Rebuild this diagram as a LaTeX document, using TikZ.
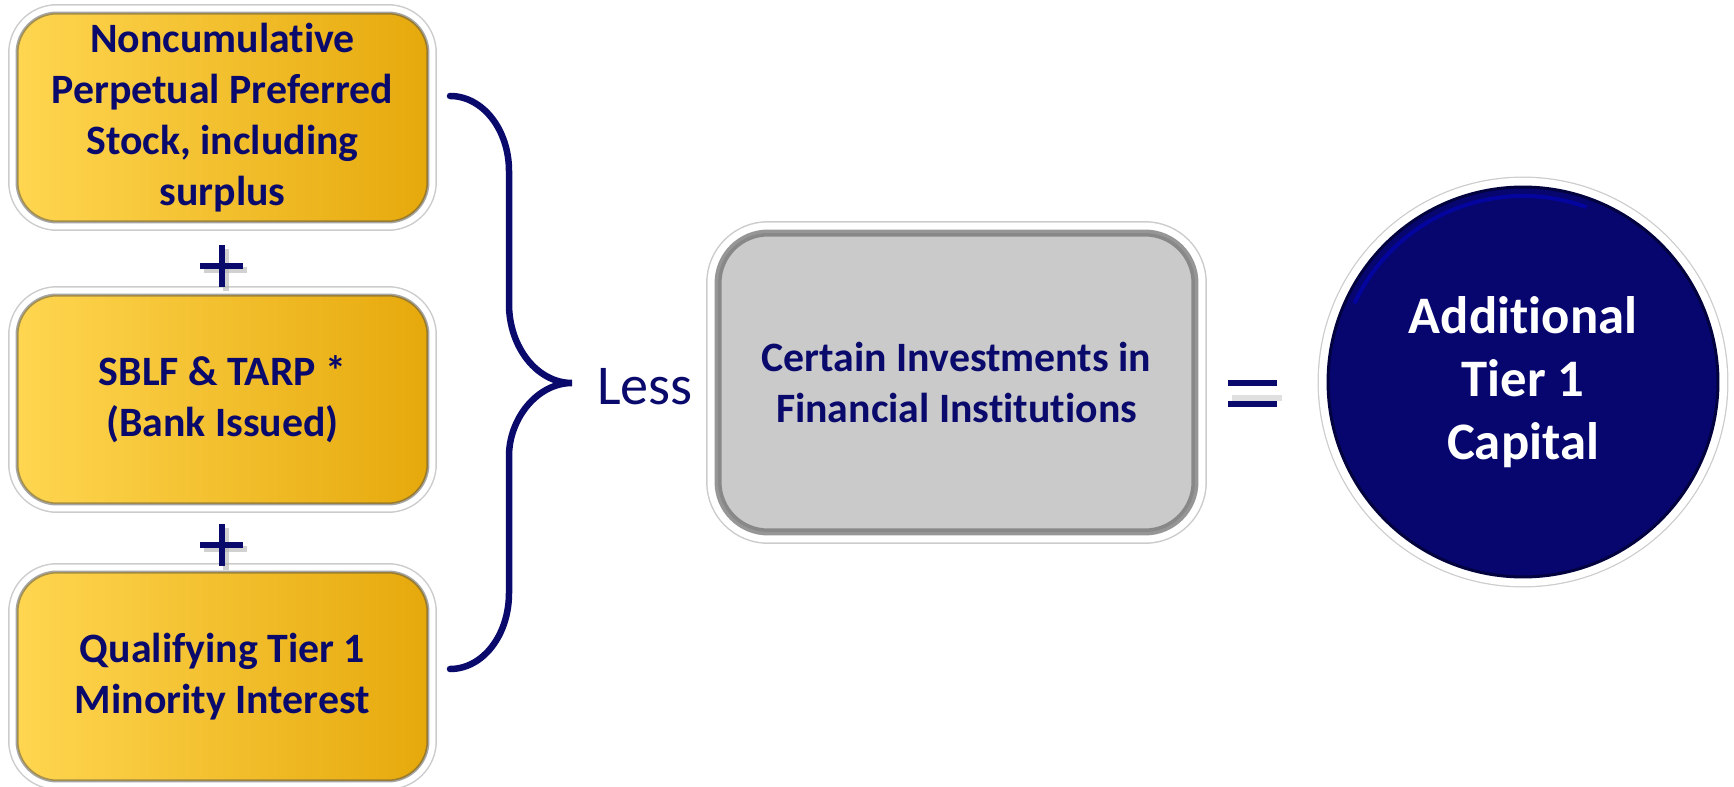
\documentclass[tikz,border=0pt]{standalone}
\usepackage{fontspec}
\setmainfont{Carlito}[Ligatures=NoCommon]
\definecolor{navytext}{HTML}{0A0A6C}
\definecolor{navyfill}{HTML}{06066E}
\definecolor{navyedge}{HTML}{02023F}
\definecolor{goldlight}{HTML}{FFD650}
\definecolor{goldmid}{HTML}{FFC410}
\definecolor{golddark}{HTML}{E6A90C}
\definecolor{boxgray}{HTML}{CACACA}
\tikzset{
	goldbox/.style={rectangle, rounded corners=0.8cm, minimum width=8.22cm, minimum height=4.18cm,
		inner sep=0pt, align=center, text=navytext, font=\fontsize{23.8}{29}\selectfont\bfseries,
		left color=goldlight, middle color=goldmid, right color=golddark,
		preaction={draw=black!20, line width=0.36cm}, preaction={draw=white, line width=0.30cm},
		postaction={draw=black!70, draw opacity=0.5, line width=0.06cm}},
	graybox/.style={rectangle, rounded corners=1cm, minimum width=9.54cm, minimum height=5.98cm,
		inner sep=0pt, align=center, text=navytext, font=\fontsize{23.8}{29}\selectfont\bfseries,
		fill=boxgray,
		preaction={draw=black!20, line width=0.48cm}, preaction={draw=white, line width=0.42cm},
		postaction={draw=black!55, draw opacity=0.75, line width=0.14cm}},
	capcircle/.style={circle, minimum size=7.8cm, inner sep=0pt, align=center, text=white,
		font=\fontsize{30}{36}\selectfont\bfseries, fill=navyfill,
		preaction={draw=black!20, line width=0.42cm}, preaction={draw=white, line width=0.37cm},
		postaction={draw=navyedge, line width=0.06cm}},
	lesstext/.style={text=navytext, font=\fontsize{32}{38}\selectfont, inner sep=0pt},
	braceline/.style={draw=navytext, line width=0.13cm, line cap=round},
	signbar/.style={draw=navytext, line width=0.12cm},
	signshadow/.style={draw=black!30, draw opacity=0.6, line width=0.12cm}
}
\begin{document}
\begin{tikzpicture}[x=0.02cm, y=-0.02cm]
	\useasboundingbox (0,0) rectangle (1734,787);
	
	% Draw the three gold boxes
	\node[goldbox] (perpetual) at (222.5,117.5) {Noncumulative\\Perpetual Preferred\\Stock, including\\surplus};
	\node[goldbox] (sblf) at (222.5,399.5) {SBLF \& TARP *\\(Bank Issued)};
	\node[goldbox] (minority) at (222.5,676.5) {Qualifying Tier 1\\Minority Interest};
	
	% Plus signs between the boxes
	\coordinate (plusA) at (221.5,266);
	\coordinate (plusB) at (221.5,545);
	\foreach \p in {plusA,plusB} {
		\draw[signshadow] (\p) ++(-17.5,4) -- ++(43,0);
		\draw[signshadow] (\p) ++(4,-17) -- ++(0,42);
		\draw[signbar] (\p) ++(-21.5,0) -- ++(43,0);
		\draw[signbar] (\p) ++(0,-21) -- ++(0,42);
	}
	
	% Brace grouping the boxes
	\coordinate (bracetop) at (450,96);
	\coordinate (bracetip) at (572,383);
	\coordinate (bracebottom) at (450,669);
	\draw[braceline] (bracetop) .. controls (483,96) and (509,130) .. (509,171) -- (509,304)
		.. controls (509,347) and (537,383) .. (bracetip)
		.. controls (537,383) and (509,419) .. (509,456) -- (509,593)
		.. controls (509,635) and (483,669) .. (bracebottom);
	
	% Less
	\node[lesstext] (less) at (645,387) {Less};
	
	% Deduction box
	\node[graybox] (investments) at (956.5,382.5) {Certain Investments in\\Financial Institutions};
	
	% Equals sign
	\coordinate (equals) at (1252.5,393.5);
	\draw[signshadow, draw opacity=0.4] (equals) ++(-20.5,4) -- ++(50,0);
	\draw[signbar] (equals) ++(-24.5,-10.5) -- ++(49,0);
	\draw[signbar] (equals) ++(-24.5,10.5) -- ++(49,0);
	
	% Result circle
	\node[capcircle] (additional) at (1523,382) {Additional\\Tier 1\\Capital};
	\draw[blue!55!navyfill, line width=0.08cm, opacity=0.6] (additional.center) ++(-155:186) arc (-155:-70:186);
	
\end{tikzpicture}
\end{document}
